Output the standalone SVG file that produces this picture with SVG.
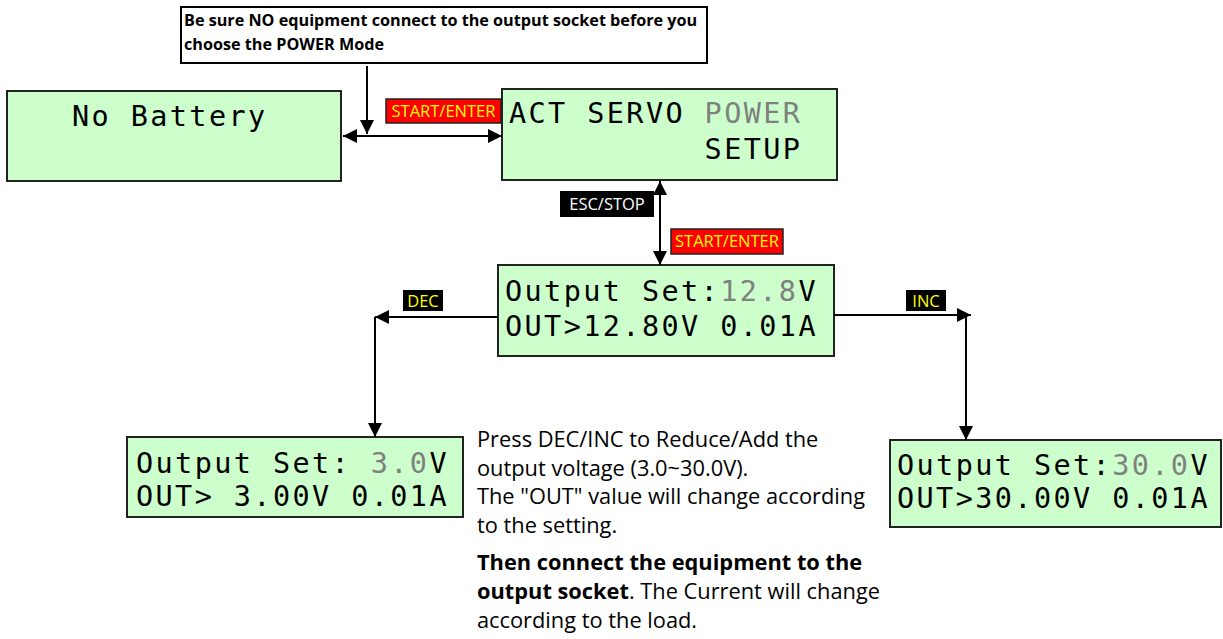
<svg xmlns="http://www.w3.org/2000/svg" width="1223" height="639" viewBox="0 0 1223 639">
<defs>
<marker id="ah" viewBox="0 0 14 14" refX="14" refY="7" markerWidth="14" markerHeight="14" markerUnits="userSpaceOnUse" orient="auto-start-reverse">
<path d="M0,0 L14,7 L0,14 Z" fill="#000"/>
</marker>
<style>
.lcd{fill:#ccffcc;stroke:#222;stroke-width:2}
.mono{font-family:"DejaVu Sans Mono","Liberation Mono",monospace;font-size:28.5px;letter-spacing:2.4px;fill:#000}
.gray{fill:#808080}
.con{stroke:#000;stroke-width:2;fill:none}
.lbl{font-family:"Open Sans","Noto Sans",sans-serif;font-size:16.5px;fill:#ffff00}
.txt{font-family:"Open Sans","Noto Sans",sans-serif;font-size:21.8px;fill:#000}
.warn{font-family:"Open Sans","Noto Sans",sans-serif;font-size:16.2px;font-weight:bold;fill:#000}
</style>
</defs>
<rect width="1223" height="639" fill="#fff"/>

<g id="warning">
<rect x="181" y="7" width="526" height="56" fill="#fff" stroke="#000" stroke-width="2"/>
<text class="warn" x="184" y="26">Be sure NO equipment connect to the output socket before you</text>
<text class="warn" x="184" y="50">choose the POWER Mode</text>
</g>

<g id="no-battery">
<rect class="lcd" x="7" y="91" width="334" height="90"/>
<text class="mono" x="72" y="126">No Battery</text>
</g>

<g id="menu">
<rect class="lcd" x="502" y="89" width="335" height="91"/>
<text class="mono" x="509" y="123" xml:space="preserve">ACT SERVO <tspan class="gray">POWER</tspan></text>
<text class="mono" x="509" y="159" xml:space="preserve">          SETUP</text>
</g>

<g id="output-set">
<rect class="lcd" x="498" y="265" width="336" height="91"/>
<text class="mono" x="505" y="301" xml:space="preserve">Output Set:<tspan class="gray">12.8</tspan>V</text>
<text class="mono" x="505" y="336" xml:space="preserve">OUT&gt;12.80V 0.01A</text>
</g>

<g id="output-min">
<rect class="lcd" x="127" y="437" width="336" height="80"/>
<text class="mono" x="136" y="473" xml:space="preserve">Output Set: <tspan class="gray">3.0</tspan>V</text>
<text class="mono" x="136" y="506" xml:space="preserve">OUT&gt; 3.00V 0.01A</text>
</g>

<g id="output-max">
<rect class="lcd" x="890" y="440" width="331" height="87"/>
<text class="mono" x="897" y="475" xml:space="preserve">Output Set:<tspan class="gray">30.0</tspan>V</text>
<text class="mono" x="897" y="508" xml:space="preserve">OUT&gt;30.00V 0.01A</text>
</g>

<g id="connectors">
<line class="con" x1="367" y1="66" x2="367" y2="134" marker-end="url(#ah)"/>
<line class="con" x1="343" y1="136" x2="502" y2="136" marker-start="url(#ah)" marker-end="url(#ah)"/>
<line class="con" x1="660" y1="181" x2="660" y2="265" marker-start="url(#ah)" marker-end="url(#ah)"/>
<line class="con" x1="498" y1="317" x2="375" y2="317" marker-end="url(#ah)"/>
<line class="con" x1="375" y1="317" x2="375" y2="437" marker-end="url(#ah)"/>
<line class="con" x1="834" y1="315" x2="971" y2="315" marker-end="url(#ah)"/>
<line class="con" x1="966" y1="315" x2="966" y2="440" marker-end="url(#ah)"/>
</g>

<g id="labels">
<rect x="386" y="99" width="115" height="24" fill="#ff0000" stroke="#222" stroke-width="1.5"/>
<text class="lbl" x="443.5" y="117" text-anchor="middle">START/ENTER</text>
<rect x="560" y="191" width="94" height="26" fill="#000"/>
<text x="607" y="210" text-anchor="middle" font-family="Open Sans, Noto Sans, sans-serif" font-size="16.5" fill="#fff">ESC/STOP</text>
<rect x="671" y="229" width="112" height="25" fill="#ff0000" stroke="#222" stroke-width="1.5"/>
<text class="lbl" x="727" y="247" text-anchor="middle">START/ENTER</text>
<rect x="403" y="290" width="40" height="21" fill="#000"/>
<text class="lbl" x="423" y="306.5" text-anchor="middle" font-size="15">DEC</text>
<rect x="906" y="290" width="40" height="21" fill="#000"/>
<text class="lbl" x="926" y="306.5" text-anchor="middle" font-size="15">INC</text>
</g>

<g id="note">
<text class="txt" x="477" y="447">Press DEC/INC to Reduce/Add the</text>
<text class="txt" x="477" y="476">output voltage (3.0~30.0V).</text>
<text class="txt" x="477" y="504">The "OUT" value will change according</text>
<text class="txt" x="477" y="533">to the setting.</text>
<text class="txt" x="477" y="570" font-weight="bold">Then connect the equipment to the</text>
<text class="txt" x="477" y="599"><tspan font-weight="bold">output socket</tspan>. The Current will change</text>
<text class="txt" x="477" y="628">according to the load.</text>
</g>
</svg>
